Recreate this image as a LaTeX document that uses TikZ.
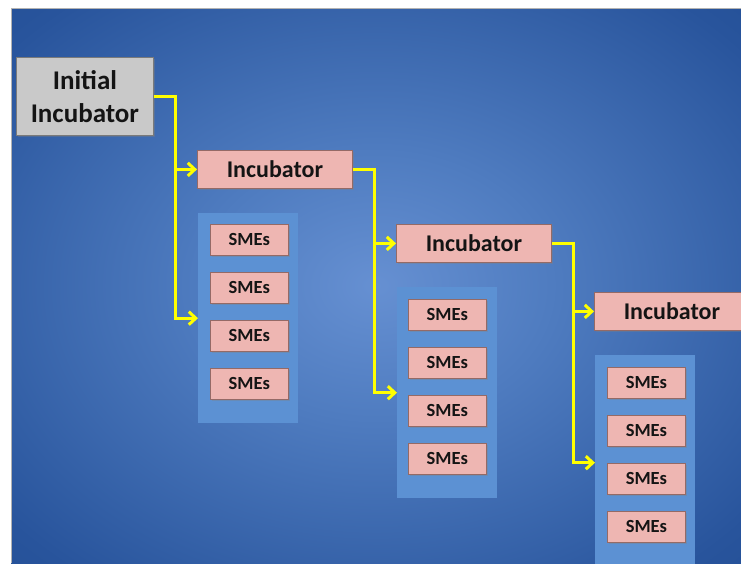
\documentclass[tikz,border=0pt]{standalone}
\usepackage{fontspec}
\setmainfont{Carlito}
\usetikzlibrary{arrows.meta,shadows}
\definecolor{bgA}{HTML}{6690D2}
\definecolor{bgB}{HTML}{4F7CC0}
\definecolor{bgC}{HTML}{28549C}
\definecolor{bgE}{HTML}{1A4689}
\definecolor{bgD}{HTML}{0A3370}
\definecolor{pinkF}{HTML}{EEB6B2}
\definecolor{pinkD}{HTML}{946A66}
\definecolor{grayF}{HTML}{C9C9C9}
\definecolor{grayD}{HTML}{7A7A7A}
\definecolor{panelC}{HTML}{5C91D3}
\definecolor{txt}{HTML}{141414}
\definecolor{yl}{HTML}{FFFF00}
\pgfdeclareradialshading{bgshade}{\pgfpoint{0bp}{0bp}}{color(0bp)=(bgA); color(12bp)=(bgB); color(33bp)=(bgC); color(50bp)=(bgE); color(71bp)=(bgD)}
\tikzset{
  boxbase/.style={anchor=north west, inner sep=0pt, text=txt, line width=0.8pt,
    drop shadow={shadow xshift=1.5pt, shadow yshift=-1.5pt, opacity=0.35}},
  initbox/.style={boxbase, draw=grayD, fill=grayF, align=center,
    font=\fontsize{27}{33}\selectfont\bfseries, minimum width=137pt, minimum height=78pt},
  incbox/.style={boxbase, draw=pinkD, fill=pinkF,
    font=\fontsize{24}{28}\selectfont\bfseries, minimum width=155pt, minimum height=38pt},
  smebox/.style={boxbase, draw=pinkD, fill=pinkF,
    font=\fontsize{18.5}{22}\selectfont\bfseries, minimum width=78pt, minimum height=31pt},
  panel/.style={anchor=north west, inner sep=0pt, fill=panelC, draw=none, minimum width=100pt},
  conn/.style={draw=yl, line width=3pt, -{Straight Barb[length=7pt,width=13pt]}},
}
\begin{document}
\begin{tikzpicture}[x=1pt,y=-1pt]
\useasboundingbox (0,0) rectangle (741,563);
\fill[white] (0,0) rectangle (741,563);
\shade[shading=bgshade] (11,8) rectangle (741,563);
\draw[gray!60, line width=0.8pt] (11,563) -- (11,8) -- (741,8);

% panels
\node[panel, minimum height=210pt] (panel1) at (198,213) {};
\node[panel, minimum height=211pt] (panel2) at (397,287) {};
\node[panel, minimum height=215pt] (panel3) at (595,355) {};

% main boxes
\node[initbox] (init) at (16,57) {Initial\\Incubator};
\node[incbox] (inc1) at (197,150) {\raisebox{-2pt}{Incubator}};
\node[incbox] (inc2) at (396,224) {\raisebox{-2pt}{Incubator}};
\node[incbox] (inc3) at (594,292) {\raisebox{-2pt}{Incubator}};

% SMEs
\node[smebox] (s11) at (210,224) {\raisebox{-2pt}{SMEs}};
\node[smebox] (s12) at (210,272) {\raisebox{-2pt}{SMEs}};
\node[smebox] (s13) at (210,320) {\raisebox{-2pt}{SMEs}};
\node[smebox] (s14) at (210,368) {\raisebox{-2pt}{SMEs}};
\node[smebox] (s21) at (408,299) {\raisebox{-2pt}{SMEs}};
\node[smebox] (s22) at (408,347) {\raisebox{-2pt}{SMEs}};
\node[smebox] (s23) at (408,395) {\raisebox{-2pt}{SMEs}};
\node[smebox] (s24) at (408,443) {\raisebox{-2pt}{SMEs}};
\node[smebox] (s31) at (607,367) {\raisebox{-2pt}{SMEs}};
\node[smebox] (s32) at (607,415) {\raisebox{-2pt}{SMEs}};
\node[smebox] (s33) at (607,463) {\raisebox{-2pt}{SMEs}};
\node[smebox] (s34) at (607,511) {\raisebox{-2pt}{SMEs}};

% connectors
\coordinate (v1) at (175,0);
\coordinate (v2) at (374,0);
\coordinate (v3) at (573,0);
\draw[conn] (init.east) -| (v1 |- panel1.west) -- (panel1.west);
\draw[conn] (v1 |- inc1.west) -- (inc1.west);
\draw[conn] (inc1.east) -| (v2 |- panel2.west) -- (panel2.west);
\draw[conn] (v2 |- inc2.west) -- (inc2.west);
\draw[conn] (inc2.east) -| (v3 |- panel3.west) -- (panel3.west);
\draw[conn] (v3 |- inc3.west) -- (inc3.west);
\end{tikzpicture}
\end{document}
